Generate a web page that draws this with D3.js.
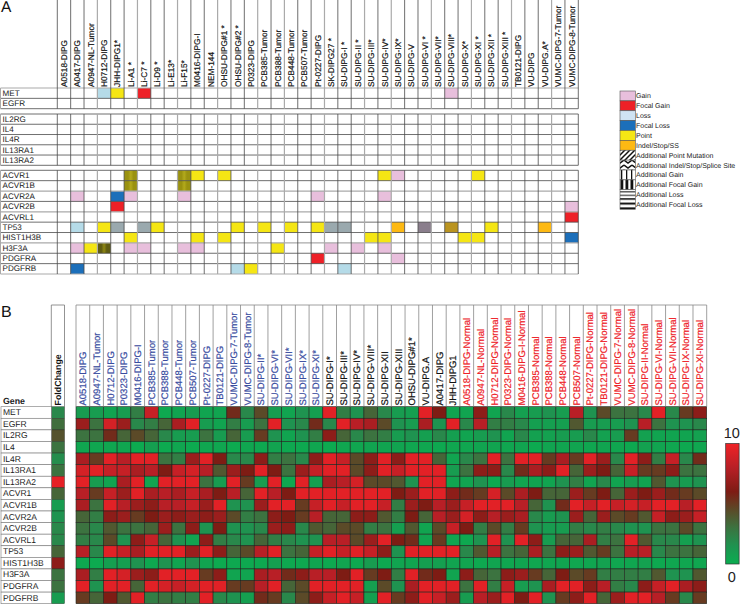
<!DOCTYPE html>
<html>
<head>
<meta charset="utf-8">
<script src="https://cdn.jsdelivr.net/npm/d3@7"></script>
<style>
html, body { margin: 0; padding: 0; background: #fff; }
svg { display: block; font-family: "Liberation Sans", Arial, sans-serif; text-rendering: geometricPrecision; }
</style>
</head>
<body>
<svg width="740" height="604"></svg>
<script>
// panel A
var samplesA = ["A0518-DIPG","A0417-DIPG","A0947-NL-Tumor","H0712-DIPG","JHH-DIPG1*","Li-A1 *","Li-C7 *","Li-D9 *","Li-E13*","Li-F15*","M0416-DIPG-I","NEM-144","OHSU-DIPG#1 *","OHSU-DIPG#2 *","P0323-DIPG","PCB385-Tumor","PCB388-Tumor","PCB448-Tumor","PCB507-Tumor","Pt-0227-DIPG","SK-DIPG27 *","SU-DIPG-I *","SU-DIPG-II *","SU-DIPG-III*","SU-DIPG-IV*","SU-DIPG-IX*","SU-DIPG-V","SU-DIPG-VI *","SU-DIPG-VII*","SU-DIPG-VIII*","SU-DIPG-X*","SU-DIPG-XI *","SU-DIPG-XII *","SU-DIPG-XIII *","TB0121-DIPG","VU-DIPG","VU-DIPG.A*","VUMC-DIPG-7-Tumor","VUMC-DIPG-8-Tumor"];
var group1 = ["MET","EGFR"];
var group2 = ["IL2RG","IL4","IL4R","IL13RA1","IL13RA2"];
var group3 = ["ACVR1","ACVR1B","ACVR2A","ACVR2B","ACVRL1","TP53","HIST1H3B","H3F3A","PDGFRA","PDGFRB"];

// [gene, sample index]
var gain = [["MET",29],["ACVR1",25],["ACVR2A",1],["ACVR2A",5],["ACVR2A",9],["ACVR2A",19],["ACVR2A",24],["ACVR2B",38],["H3F3A",1],["H3F3A",5],["H3F3A",6],["H3F3A",9],["H3F3A",10],["H3F3A",20],["H3F3A",22],["H3F3A",24],["PDGFRA",25]];
var focalGain = [["MET",6],["ACVR2B",4],["ACVRL1",38],["PDGFRA",19]];
var loss = [["MET",3],["TP53",1],["PDGFRB",13],["PDGFRB",21]];
var focalLoss = [["ACVR2A",4],["HIST1H3B",38],["PDGFRB",1]];
var point = [["MET",4],["ACVR1",10],["ACVR1",12],["ACVR1",24],["ACVR1",31],["TP53",3],["TP53",7],["TP53",13],["TP53",15],["TP53",17],["TP53",19],["TP53",32],["HIST1H3B",5],["HIST1H3B",10],["HIST1H3B",12],["HIST1H3B",23],["HIST1H3B",24],["HIST1H3B",30],["HIST1H3B",31],["H3F3A",2],["H3F3A",16],["PDGFRB",14]];
var indel = [["TP53",25],["TP53",36]];
var pointGain = [["ACVR1",5],["ACVR1",9],["ACVR1B",5],["ACVR1B",9]];
var pointFocal = [["H3F3A",3]];
var pointLoss = [["TP53",4],["TP53",6],["TP53",20],["TP53",21]];
var pointPurple = [["TP53",27]];
var pointGold = [["TP53",29]];

var legendItems = ["Gain","Focal Gain","Loss","Focal Loss","Point","Indel/Stop/SS","Additional Point Mutation","Additional Indel/Stop/Splice Site","Additional Gain","Additional Focal Gain","Additional Loss","Additional Focal Loss"];

// panel B
var samplesBlue = ["A0518-DIPG","A0947-NL-Tumor","H0712-DIPG","P0323-DIPG","M0416-DIPG-I","PCB385-Tumor","PCB388-Tumor","PCB448-Tumor","PCB507-Tumor","Pt-0227-DIPG","TB0121-DIPG","VUMC-DIPG-7-Tumor","VUMC-DIPG-8-Tumor","SU-DIPG-II*","SU-DIPG-VI*","SU-DIPG-VII*","SU-DIPG-IX*","SU-DIPG-XI*"];
var samplesBlack = ["SU-DIPG-I*","SU-DIPG-III*","SU-DIPG-IV*","SU-DIPG-VIII*","SU-DIPG-XII","SU-DIPG-XIII","OHSU-DIPG#1*","VU-DIPG.A","A0417-DIPG","JHH-DIPG1"];
var samplesRed = ["A0518-DIPG-Normal","A0947-NL-Normal","H0712-DIPG-Normal","P0323-DIPG-Normal","M0416-DIPG-I-Normal","PCB385-Normal","PCB388-Normal","PCB448-Normal","PCB507-Normal","Pt-0227-DIPG-Normal","TB0121-DIPG-Normal","VUMC-DIPG-7-Normal","VUMC-DIPG-8-Normal","SU-DIPG-II-Normal","SU-DIPG-VI-Normal","SU-DIPG-VII-Normal","SU-DIPG-IX-Normal","SU-DIPG-XI-Normal"];
var genesB = ["MET","EGFR","IL2RG","IL4","IL4R","IL13RA1","IL13RA2","ACVR1","ACVR1B","ACVR2A","ACVR2B","ACVRL1","TP53","HIST1H3B","H3F3A","PDGFRA","PDGFRB"];
var foldChange = [2,3.2,4.2,3,1.8,3,9.6,3.5,1,1.5,2,2,3.5,6.5,3,3,1];

var heatValues = [
  [1,1,0.5,1,2.5,8.5,0.3,0.5,1,0.5,0.5,5.5,2,4.5,1,0.5,1.5,0.8,9.5,2.5,1.5,3.5,2,1,0.8,9.5,6,0.5,0.5,6.5,0.5,2,0.8,1,1.5,1,8,1.5,4.5,3,3,2,9.5,2,5,6.5],
  [7,3,9,7,2,2.5,3.5,7.5,9.5,1,0.5,2.5,1,3,9.5,1.5,2,5.5,2,9.5,8,7.5,4.5,1.5,1,7.5,1.5,9.5,2,8,2.5,2.5,2,0.8,0.8,0.8,4,1,1,1,1.5,8,3,1.5,1.5,2],
  [3,3,5.5,3.5,4.5,3.5,2,1,1,3,1,3.5,1,5,1.5,0.5,1.5,2.5,6.5,3.5,2,3,2.5,1,1.5,0.8,2,0.8,0.5,1,1.5,0.5,2,0.7,0.7,1,1,2,0.7,1,5,0.7,0.5,0.5,0.5,0.7],
  [0.4,0.4,0.4,0.4,0.2,0.8,0.2,0.4,0.2,0.4,0.4,0.2,0.4,0.3,0.6,0.3,0.3,0.4,0.2,0.4,0.4,0.5,0.5,0.5,0.4,0.4,0.3,0.4,0.4,0.5,0.5,0.4,0.5,0.2,0.5,0.5,0.5,0.4,0.5,0.4,0.3,0.7,0.5,0.4,0.3,0.4],
  [7.5,5,9.5,8,9.5,9.5,3,2.5,7,9.5,6,2,2,6.5,2.5,3,2,6.5,9.5,8.5,4.5,6.5,9.5,6.5,9.5,9.5,3.5,0.5,2,3,9.5,3,9.5,9.5,5,7.5,5,9.5,7,2,9.5,6.5,2.5,8.5,2,5.5],
  [9,9.5,8.5,8.5,7.5,8,6,8.5,9,8,4,7,6,9.5,6,3,7,8.5,9.5,9.5,4.5,6.5,9.5,8.5,9.5,9.5,9.5,1,3,6.5,6.5,2,5.5,7.5,6.5,9.5,3.5,7,6,3.5,8.5,5,5,6.5,3,3],
  [9.5,1,0.5,7.5,9.5,0.5,9.5,9.5,9.5,3,1,9.5,5,1,9.5,0.3,9.5,0.8,7.5,8,9,4.5,4.5,4,1.5,9.5,9.5,0.5,0.5,1.5,0.3,1,0.5,0.5,0.5,1.5,2.5,0.5,2,0.5,1,0.5,4,1.5,1,1.5],
  [8,5,8.5,7,9.5,7.5,8,7.5,8.5,7.5,6,8,3.5,9.5,8,6,9.5,9.5,9.5,9.5,9.5,9.5,9.5,6,7,9.5,9.5,6.5,5.5,5,9,4.5,7.5,6,3.5,3.5,7,5,6,3.5,7,6,7,5.5,5,4.5],
  [7.5,3,9.5,8,7,6.5,8,8,8.5,7,9.5,1.5,1.5,7,9.5,9.5,5,8.5,9.5,8.5,9.5,9.5,8.5,2.5,7,6,8,7,8.5,9.5,9.5,9.5,8,3.5,1.5,5.5,9.5,8.5,9.5,8.5,9,8.5,9.5,9.5,8,9.5],
  [3.5,2.5,6.5,7,5,6,7,6.5,7,6.5,7,4.5,2.5,3,6.5,6,5,8,3.5,3.5,6.5,6.5,4,2.5,6,3.5,8,7,9,6.5,8,7,7.5,2,1,1.5,7,3.5,7,4.5,5,4,8.5,6.5,7,8.5],
  [3,2,4,3,3,3.5,7,3,6.5,1.5,6,1.5,1.5,2,7,6.5,2,4,3.5,4.5,4.5,2.5,3,0.8,4,0.5,4.5,8.5,6,2.5,4.5,2.5,5,1.5,1,1,2.5,2,2.5,2,1.5,1.5,3,3,4.5,3],
  [2.5,2,4.5,1.5,6.5,8.5,3.5,1.5,0.5,6.5,2.5,2,1.5,3.5,2.5,2,1.5,1.5,8,8,4.5,7,9.5,6,5.5,0.5,5,0.5,0.3,1.5,9.5,1.5,9.5,6.5,1,3.5,3.5,7.5,2.5,3,9.5,4,2,2,0.8,1.5],
  [8,2,9.5,8.5,7.5,9.5,9.5,9.5,7,9.5,6.5,3.5,4.5,8,9.5,3,3.5,8.5,9.5,8.5,9.5,8.5,6.5,1.5,9.5,9.5,9.5,9.5,2,4,8,3,3.5,7.5,3,6.5,7,4,5,3,8,8,2,3,3,3.5],
  [0.3,0.2,0.8,0.8,1.5,0.3,1.5,0.5,1.5,0.5,0.2,0.3,0.3,0.3,0.8,0.3,0.3,0.5,0.3,0.5,0.3,1,0.3,0.5,0.5,0.8,0.8,0.5,0.5,0.3,0.5,0.4,0.5,0.4,0.4,0.5,0.4,0.4,0.7,0.4,0.4,0.7,0.3,0.4,0.4,0.4],
  [7.5,2.5,9.5,9,7,6.5,9.5,9.5,9.5,5,6.5,0.5,0.5,7.5,8,5.5,6.5,8,8,6,9.5,5,6,2.5,9.5,5.5,6,0.5,6.5,3.5,3,6.5,7,5,3.5,6,4.5,5,2.5,2.5,2.5,2.5,4,1.5,1.5,4],
  [9.5,1.5,9.5,9.5,3.5,9.5,9,8.5,9,9.5,9.5,5,5,8,9.5,3.5,4.5,9.5,9.5,9.5,9.5,0.8,4.5,1.5,7.5,9.5,9.5,9.5,3,9.5,2.5,8.5,1,1.5,7.5,9.5,9.5,6.5,8,2.5,2,6.5,8.5,9.5,7.5,6.5],
  [5,3.5,6,4,9.5,2.5,3,2.5,2.5,9.5,2,1.5,0.8,5.5,5,2,4.5,6.5,8.5,9.5,8.5,0.8,9.5,5,6.5,9.5,8.5,7,1,8,7,9.5,6,9.5,1.5,5,6.5,9.5,3.5,7,9.5,9.5,8,5,2,5]
];

var svg = d3.select("svg");
var defs = svg.append("defs");
var lineDark = "#4a4a4a", lineGray = "#aaa", textFill = "#1c1c1c";

// hatched swatches for the legend
function addPattern(id, w, h, draw) {
  var p = defs.append("pattern").attr("id", id).attr("width", w).attr("height", h).attr("patternUnits", "userSpaceOnUse");
  p.append("rect").attr("width", w).attr("height", h).attr("fill", "#fff");
  draw(p);
}
addPattern("hatchPoint", 5, 5, function (p) {
  p.append("path").attr("d", "M-1,6L6,-1M-1,1L1,-1M4,6L6,4").attr("stroke", "#111").attr("stroke-width", 1.5);
});
addPattern("hatchIndel", 8, 5, function (p) {
  p.append("path").attr("d", "M0,0L4,3L8,0M0,5L4,8L8,5M0,-5L4,-2L8,-5").attr("stroke", "#111").attr("stroke-width", 1.4).attr("fill", "none");
});
addPattern("vertThin", 5, 5, function (p) {
  p.append("rect").attr("x", 1).attr("width", 1.3).attr("height", 5).attr("fill", "#111");
});
addPattern("vertThick", 5, 5, function (p) {
  p.append("rect").attr("x", 0.5).attr("width", 2.8).attr("height", 5).attr("fill", "#111");
});
addPattern("horizThin", 5, 3.4, function (p) {
  p.append("rect").attr("y", 1).attr("width", 5).attr("height", 1).attr("fill", "#111");
});
addPattern("horizThick", 5, 4.8, function (p) {
  p.append("rect").attr("y", 1).attr("width", 5).attr("height", 2).attr("fill", "#111");
});

function stripeGradient(id, side, mid) {
  var g = defs.append("linearGradient").attr("id", id);
  [[0, side], [0.3, side], [0.5, mid], [0.7, side], [1, side]].forEach(function (s) {
    g.append("stop").attr("offset", s[0]).attr("stop-color", s[1]);
  });
}
stripeGradient("oliveCell", "#9a9210", "#b3aa1c");
stripeGradient("darkOliveCell", "#5f5c12", "#8f8814");

var cellKinds = [
  { cells: gain, fill: "#e8bfdc" },
  { cells: focalGain, fill: "#ee2027" },
  { cells: loss, fill: "#b5dbe8" },
  { cells: focalLoss, fill: "#1c6fba" },
  { cells: point, fill: "#f5e614" },
  { cells: indel, fill: "#fdb913" },
  { cells: pointGain, fill: "url(#oliveCell)" },
  { cells: pointFocal, fill: "url(#darkOliveCell)" },
  { cells: pointLoss, fill: "#9aa9ae" },
  { cells: pointPurple, fill: "#8a7e8c" },
  { cells: pointGold, fill: "#ba9420" }
];

// ---- panel A
var xA = d3.scaleBand().domain(d3.range(samplesA.length)).range([57.3, 578.3]);
var grayCols = [2,5,8,11,14,16,19,22,24,27,30,33,36];
var grayRowsG3 = [2,4,7,10];

function drawGroup(genes, top, bottom, grayRows) {
  var y = d3.scaleBand().domain(genes).range([top, bottom]);
  var g = svg.append("g");

  cellKinds.forEach(function (kind) {
    g.selectAll(null)
      .data(kind.cells.filter(function (c) { return genes.indexOf(c[0]) >= 0; }))
      .enter().append("rect")
      .attr("x", function (d) { return xA(d[1]); })
      .attr("y", function (d) { return y(d[0]); })
      .attr("width", xA.bandwidth())
      .attr("height", y.bandwidth())
      .attr("fill", kind.fill);
  });

  // row lines
  d3.range(genes.length + 1).forEach(function (i) {
    var yy = top + i * y.bandwidth();
    g.append("line").attr("x1", 0.5).attr("x2", 578.3).attr("y1", yy).attr("y2", yy)
      .attr("stroke", grayRows.indexOf(i) >= 0 ? lineGray : lineDark)
      .attr("stroke-width", grayRows.indexOf(i) >= 0 ? 1.2 : 0.8);
  });
  // column lines
  d3.range(samplesA.length + 1).forEach(function (i) {
    var xx = 57.3 + i * xA.step();
    var isGray = grayCols.indexOf(i - 1) >= 0;
    g.append("line").attr("x1", xx).attr("x2", xx).attr("y1", top).attr("y2", bottom)
      .attr("stroke", isGray ? lineGray : lineDark)
      .attr("stroke-width", isGray ? 1.2 : 0.8);
  });
  g.append("line").attr("x1", 0.5).attr("x2", 0.5).attr("y1", top).attr("y2", bottom).attr("stroke", lineGray);

  var axis = svg.append("g").call(d3.axisLeft(y).tickSize(0));
  axis.select(".domain").remove();
  axis.selectAll("text").attr("x", 2.5).attr("text-anchor", "start")
    .attr("font-size", 8.1).attr("font-family", "Liberation Sans").attr("fill", textFill);
}
drawGroup(group1, 88, 108.7, [0]);
drawGroup(group2, 114, 165.3, []);
drawGroup(group3, 170.3, 274, grayRowsG3);

// panel A column header
d3.range(samplesA.length + 1).forEach(function (i) {
  var xx = 57.3 + i * xA.step();
  var isGray = grayCols.indexOf(i - 1) >= 0;
  svg.append("line").attr("x1", xx).attr("x2", xx).attr("y1", 0).attr("y2", 88)
    .attr("stroke", isGray ? lineGray : lineDark).attr("stroke-width", isGray ? 1.2 : 0.8);
});
var axisA = svg.append("g").attr("transform", "translate(0,87)")
  .call(d3.axisTop(xA).tickSize(0).tickFormat(function (i) { return samplesA[i]; }));
axisA.select(".domain").remove();
axisA.selectAll("text")
  .attr("x", 0).attr("y", 0).attr("dy", "0.35em")
  .attr("transform", "rotate(-90)").attr("text-anchor", "start")
  .attr("font-size", 8.3).attr("font-family", "Liberation Sans")
  .attr("fill", "#111").attr("stroke", "#111").attr("stroke-width", 0.2);

svg.append("text").attr("x", 1).attr("y", 12).attr("font-size", 15.5).attr("fill", "#111").text("A");
svg.append("text").attr("x", 1).attr("y", 317).attr("font-size", 16).attr("fill", "#111").text("B");

// legend
var legendY = d3.scaleBand().domain(legendItems).range([91, 209.5]);
var legendFills = ["#e8bfdc","#ee2027","#cfe3f3","#1c6fba","#f5e614","#fdb913","url(#hatchPoint)","url(#hatchIndel)","url(#vertThin)","url(#vertThick)","url(#horizThin)","url(#horizThick)"];
svg.selectAll(".swatch").data(legendItems).enter().append("rect")
  .attr("class", "swatch")
  .attr("x", 620).attr("width", 15.3)
  .attr("y", function (d) { return legendY(d); })
  .attr("height", legendY.bandwidth())
  .attr("fill", function (d, i) { return legendFills[i]; })
  .attr("stroke", "#555").attr("stroke-width", 0.6);
svg.selectAll(".legendText").data(legendItems).enter().append("text")
  .attr("class", "legendText")
  .attr("x", 636).attr("dy", "0.35em")
  .attr("y", function (d) { return legendY(d) + legendY.bandwidth() / 2; })
  .attr("font-size", 7).attr("fill", "#222")
  .text(function (d) { return d; });

// ---- panel B
var samplesB = samplesBlue.concat(samplesBlack, samplesRed);
var xB = d3.scaleBand().domain(d3.range(samplesB.length)).range([76, 706.7]);
var yB = d3.scaleBand().domain(genesB).range([406.7, 603.7]);
var xFold = d3.scaleBand().domain(["FoldChange"]).range([51.3, 64.5]);

var color = d3.scaleLinear()
  .domain([0, 1.5, 3, 4.5, 6, 8, 10])
  .range(["#0aad50", "#1f9350", "#3c7340", "#5b4a28", "#7e1c14", "#b81f26", "#f02226"]);

svg.selectAll(".heatRow").data(heatValues).enter().append("g")
  .attr("class", "heatRow")
  .attr("transform", function (d, i) { return "translate(0," + yB(genesB[i]) + ")"; })
  .selectAll("rect").data(function (d) { return d; }).enter().append("rect")
  .attr("x", function (d, i) { return xB(i); })
  .attr("width", xB.bandwidth())
  .attr("height", yB.bandwidth())
  .attr("fill", function (d) { return color(d); })
  .attr("stroke", "#20261e").attr("stroke-width", 0.6);

svg.selectAll(".foldCell").data(foldChange).enter().append("rect")
  .attr("class", "foldCell")
  .attr("x", xFold("FoldChange"))
  .attr("y", function (d, i) { return yB(genesB[i]); })
  .attr("width", xFold.bandwidth())
  .attr("height", yB.bandwidth())
  .attr("fill", function (d) { return color(d); })
  .attr("stroke", "#20261e").attr("stroke-width", 0.4);

// row label box
svg.selectAll(".geneBox").data(genesB).enter().append("rect")
  .attr("class", "geneBox")
  .attr("x", 1).attr("width", 50.3)
  .attr("y", function (d) { return yB(d); })
  .attr("height", yB.bandwidth())
  .attr("fill", "#fff").attr("stroke", "#777").attr("stroke-width", 0.6);
var axisGenes = svg.append("g").call(d3.axisLeft(yB).tickSize(0));
axisGenes.select(".domain").remove();
axisGenes.selectAll("text").attr("x", 3).attr("text-anchor", "start")
  .attr("font-size", 8.5).attr("font-family", "Liberation Sans").attr("fill", textFill);

svg.append("text").attr("x", 3).attr("y", 404).attr("font-size", 8.8).attr("font-weight", "bold").attr("fill", "#222").text("Gene");

// header lines
d3.range(samplesB.length + 1).forEach(function (i) {
  var xx = 76 + i * xB.step();
  svg.append("line").attr("x1", xx).attr("x2", xx).attr("y1", 305).attr("y2", 406.7)
    .attr("stroke", "#888").attr("stroke-width", 0.8);
});
svg.append("line").attr("x1", 76).attr("x2", 706.7).attr("y1", 305).attr("y2", 305).attr("stroke", "#888").attr("stroke-width", 0.8);
svg.append("path").attr("d", "M51.3,406.7V305H64.5V406.7").attr("fill", "none").attr("stroke", "#777").attr("stroke-width", 0.8);

function sampleColor(i) {
  if (i < samplesBlue.length) return "#3a4d9f";
  if (i < samplesBlue.length + samplesBlack.length) return "#111";
  return "#ee2027";
}
var axisB = svg.append("g").attr("transform", "translate(0,405.5)")
  .call(d3.axisTop(xB).tickSize(0).tickFormat(function (i) { return samplesB[i]; }));
axisB.select(".domain").remove();
axisB.selectAll("text")
  .attr("x", 0).attr("y", 0).attr("dy", "0.35em")
  .attr("transform", "rotate(-90)").attr("text-anchor", "start")
  .attr("font-size", 9.5).attr("font-family", "Liberation Sans")
  .attr("fill", function (i) { return sampleColor(i); })
  .attr("stroke", function (i) { return sampleColor(i); }).attr("stroke-width", 0.2);

var axisFold = svg.append("g").attr("transform", "translate(0,405.5)").call(d3.axisTop(xFold).tickSize(0));
axisFold.select(".domain").remove();
axisFold.selectAll("text")
  .attr("x", 0).attr("y", 0).attr("dy", "0.35em")
  .attr("transform", "rotate(-90)").attr("text-anchor", "start")
  .attr("font-size", 8.9).attr("font-weight", "bold").attr("font-family", "Liberation Sans").attr("fill", "#111");

// colour bar
var barY = d3.scaleLinear().domain([0, 10]).range([564, 443.5]);
var barGrad = defs.append("linearGradient").attr("id", "barGrad").attr("x1", 0).attr("x2", 0).attr("y1", 1).attr("y2", 0);
color.domain().forEach(function (v) {
  barGrad.append("stop").attr("offset", v / 10).attr("stop-color", color(v));
});
svg.append("rect").attr("x", 725.7).attr("width", 13.4)
  .attr("y", barY(10)).attr("height", barY(0) - barY(10))
  .attr("fill", "url(#barGrad)").attr("stroke", "#333").attr("stroke-width", 0.7);
var axisBar = svg.append("g").attr("transform", "translate(731.8,0)")
  .call(d3.axisLeft(barY).tickValues([0, 10]).tickSize(0));
axisBar.select(".domain").remove();
axisBar.selectAll("text")
  .attr("x", 0).attr("text-anchor", "middle")
  .attr("dy", function (d) { return d === 10 ? "-0.4em" : "1.2em"; })
  .attr("font-size", 14.5).attr("font-family", "Liberation Sans").attr("fill", "#222");
</script>
</body>
</html>
